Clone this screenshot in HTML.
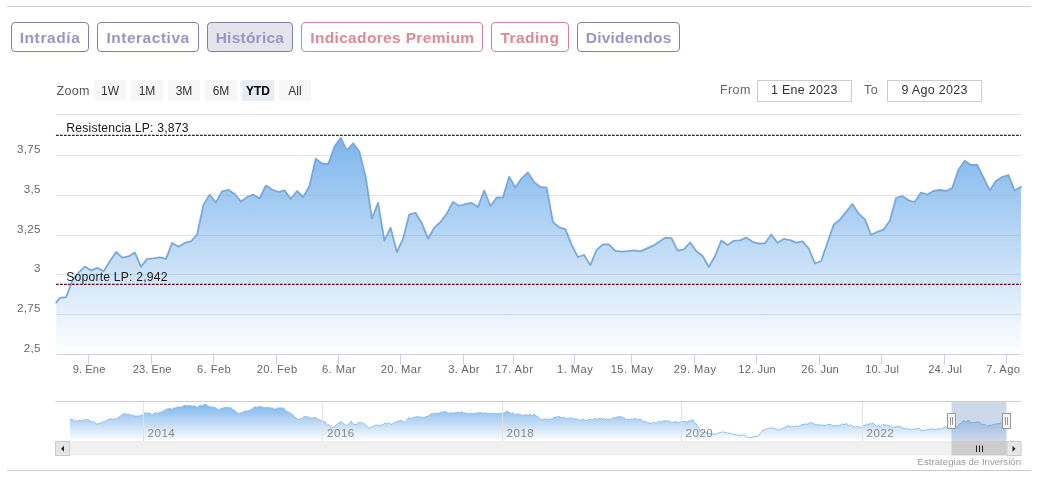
<!DOCTYPE html>
<html><head><meta charset="utf-8"><title>chart</title>
<style>
html,body{margin:0;padding:0;background:#fff;}
body{width:1039px;height:478px;position:relative;overflow:hidden;font-family:"Liberation Sans",sans-serif;}
.hr{position:absolute;left:7px;width:1024px;height:1px;background:#cfcfdb;}
.tab{position:absolute;top:22px;height:29.5px;box-sizing:border-box;border:1px solid #8280a6;border-radius:4px;
 font-weight:bold;font-size:15.5px;line-height:30px;text-align:center;color:#9a95c6;background:#fff;white-space:nowrap;}
.tab.ps{background:#e4e4ec;}
.tab.r{border-color:#d9828f;color:#dd8a98;}
.zl{position:absolute;left:56.5px;top:83.7px;font-size:12.5px;color:#555;line-height:15px;letter-spacing:.3px}
.zb{position:absolute;top:79.5px;width:32px;height:21px;background:#f7f7f7;font-size:12px;line-height:22.5px;text-align:center;color:#333;}
.zb.sel{background:#e6ebf5;color:#000;font-weight:bold;}
.il{position:absolute;top:83px;font-size:12.5px;color:#666;line-height:15px;letter-spacing:.4px}
.ib{position:absolute;top:80px;width:94.4px;height:22px;box-sizing:border-box;border:1px solid #ccc;font-size:12.5px;line-height:19px;text-align:center;color:#333;letter-spacing:.3px}
svg{position:absolute;left:0;top:0;will-change:transform;}
svg text{font-family:"Liberation Sans",sans-serif;}
#w{position:absolute;left:0;top:0;width:1039px;height:478px;will-change:transform;}
</style></head><body><div id="w">
<div class="hr" style="top:6px"></div>
<div class="hr" style="top:470px;background:#ccc"></div>
<div class="tab p" style="left:11.0px;width:77.5px;letter-spacing:0.60px;text-indent:0.60px">Intradía</div><div class="tab p" style="left:97.0px;width:101.6px;letter-spacing:0.52px;text-indent:0.52px">Interactiva</div><div class="tab ps" style="left:207.0px;width:85.6px;letter-spacing:0.24px;text-indent:0.24px">Histórica</div><div class="tab r" style="left:301.3px;width:181.7px;letter-spacing:0.34px;text-indent:0.34px">Indicadores Premium</div><div class="tab r" style="left:491.0px;width:77.5px;letter-spacing:0.42px;text-indent:0.42px">Trading</div><div class="tab p" style="left:577.4px;width:102.3px;letter-spacing:0.22px;text-indent:0.22px">Dividendos</div>
<div class="zl">Zoom</div>
<div class="zb" style="left:94px">1W</div><div class="zb" style="left:131px">1M</div><div class="zb" style="left:168px">3M</div><div class="zb" style="left:205px">6M</div><div class="zb sel" style="left:242px">YTD</div><div class="zb" style="left:279px">All</div>
<div class="il" style="left:720px">From</div>
<div class="ib" style="left:757.2px">1 Ene 2023</div>
<div class="il" style="left:864px">To</div>
<div class="ib" style="left:887.1px;width:95px">9 Ago 2023</div>
<svg width="1039" height="478" viewBox="0 0 1039 478">
<defs>
<linearGradient id="g" gradientUnits="userSpaceOnUse" x1="0" y1="137" x2="0" y2="354.5"><stop offset="0" stop-color="#7cb5ec"/><stop offset="1" stop-color="#7cb5ec" stop-opacity="0"/></linearGradient>
<linearGradient id="ng" gradientUnits="userSpaceOnUse" x1="0" y1="404" x2="0" y2="441"><stop offset="0" stop-color="#7cb5ec"/><stop offset="1" stop-color="#7cb5ec" stop-opacity="0"/></linearGradient>
</defs>
<g stroke="#e2e2e2" stroke-width="1" fill="none"><path d="M56 114.5H1021"/><path d="M56 155.5H1021"/><path d="M56 195.5H1021"/><path d="M56 235.5H1021"/><path d="M56 274.5H1021"/><path d="M56 314.5H1021"/></g>
<path d="M56.2 302.6 L59.9 297.8 L66.1 297.2 L72.4 280.4 L78.6 272.7 L84.9 266.6 L91.1 270.4 L97.3 267.9 L103.6 271.2 L109.8 261.2 L116.1 252.0 L122.3 257.7 L128.5 256.4 L134.8 252.5 L141.0 266.6 L147.3 258.9 L153.5 258.3 L159.7 257.3 L166.0 258.9 L172.2 242.9 L178.5 246.8 L184.7 242.9 L190.9 241.4 L197.2 234.5 L203.4 204.9 L209.7 194.7 L215.9 202.4 L222.1 191.4 L228.4 189.8 L234.6 193.9 L240.9 201.6 L247.1 197.2 L253.3 194.7 L259.6 198.5 L265.8 185.6 L272.1 189.5 L278.3 192.0 L284.5 190.4 L290.8 199.1 L297.0 191.0 L303.3 197.0 L309.5 186.0 L315.7 158.7 L322.0 163.5 L328.2 164.2 L334.5 146.6 L340.7 137.8 L346.9 150.4 L353.2 143.3 L359.4 151.9 L365.7 177.0 L371.9 218.5 L378.1 202.9 L384.4 240.6 L390.6 227.7 L396.9 252.2 L403.1 238.7 L409.3 214.3 L415.6 212.9 L421.8 223.3 L428.1 238.7 L434.3 227.7 L440.5 222.0 L446.8 213.7 L453.0 201.9 L459.3 205.9 L465.5 204.0 L471.7 202.9 L478.0 207.0 L484.2 190.5 L490.5 206.0 L496.7 197.5 L502.9 197.6 L509.2 176.7 L515.4 187.6 L521.7 178.3 L527.9 172.5 L534.1 182.1 L540.4 187.0 L546.6 187.6 L552.9 221.8 L559.1 227.3 L565.3 229.2 L571.6 244.6 L577.8 257.0 L584.1 255.0 L590.3 265.1 L596.5 250.2 L602.8 244.3 L609.0 244.3 L615.3 250.9 L621.5 251.6 L627.7 251.1 L634.0 250.3 L640.2 251.4 L646.5 248.7 L652.7 245.9 L658.9 242.0 L665.2 237.7 L671.4 238.1 L677.7 250.7 L683.9 249.3 L690.1 242.5 L696.4 251.2 L702.6 256.0 L708.9 267.0 L715.1 256.0 L721.3 240.5 L727.6 245.0 L733.8 240.7 L740.1 240.3 L746.3 237.6 L752.5 241.8 L758.8 243.7 L765.0 243.3 L771.3 234.5 L777.5 242.7 L783.7 238.9 L790.0 240.2 L796.2 242.7 L802.5 241.4 L808.7 248.5 L814.9 263.5 L821.2 261.0 L827.4 242.7 L833.7 224.8 L839.9 219.6 L846.1 211.9 L852.4 204.0 L858.6 213.7 L864.9 219.3 L871.1 235.0 L877.3 231.8 L883.6 229.6 L889.8 220.7 L896.1 198.0 L902.3 195.9 L908.5 200.3 L914.8 202.0 L921.0 192.6 L927.3 194.5 L933.5 191.0 L939.7 190.0 L946.0 191.0 L952.2 188.1 L958.5 169.8 L964.7 160.8 L970.9 165.0 L977.2 165.0 L983.4 177.5 L989.7 190.4 L995.9 181.0 L1002.1 177.0 L1008.4 175.0 L1014.6 190.6 L1021.0 186.8 L1021 354.5 L56.2 354.5 Z" fill="url(#g)"/>
<path d="M56.2 302.6 L59.9 297.8 L66.1 297.2 L72.4 280.4 L78.6 272.7 L84.9 266.6 L91.1 270.4 L97.3 267.9 L103.6 271.2 L109.8 261.2 L116.1 252.0 L122.3 257.7 L128.5 256.4 L134.8 252.5 L141.0 266.6 L147.3 258.9 L153.5 258.3 L159.7 257.3 L166.0 258.9 L172.2 242.9 L178.5 246.8 L184.7 242.9 L190.9 241.4 L197.2 234.5 L203.4 204.9 L209.7 194.7 L215.9 202.4 L222.1 191.4 L228.4 189.8 L234.6 193.9 L240.9 201.6 L247.1 197.2 L253.3 194.7 L259.6 198.5 L265.8 185.6 L272.1 189.5 L278.3 192.0 L284.5 190.4 L290.8 199.1 L297.0 191.0 L303.3 197.0 L309.5 186.0 L315.7 158.7 L322.0 163.5 L328.2 164.2 L334.5 146.6 L340.7 137.8 L346.9 150.4 L353.2 143.3 L359.4 151.9 L365.7 177.0 L371.9 218.5 L378.1 202.9 L384.4 240.6 L390.6 227.7 L396.9 252.2 L403.1 238.7 L409.3 214.3 L415.6 212.9 L421.8 223.3 L428.1 238.7 L434.3 227.7 L440.5 222.0 L446.8 213.7 L453.0 201.9 L459.3 205.9 L465.5 204.0 L471.7 202.9 L478.0 207.0 L484.2 190.5 L490.5 206.0 L496.7 197.5 L502.9 197.6 L509.2 176.7 L515.4 187.6 L521.7 178.3 L527.9 172.5 L534.1 182.1 L540.4 187.0 L546.6 187.6 L552.9 221.8 L559.1 227.3 L565.3 229.2 L571.6 244.6 L577.8 257.0 L584.1 255.0 L590.3 265.1 L596.5 250.2 L602.8 244.3 L609.0 244.3 L615.3 250.9 L621.5 251.6 L627.7 251.1 L634.0 250.3 L640.2 251.4 L646.5 248.7 L652.7 245.9 L658.9 242.0 L665.2 237.7 L671.4 238.1 L677.7 250.7 L683.9 249.3 L690.1 242.5 L696.4 251.2 L702.6 256.0 L708.9 267.0 L715.1 256.0 L721.3 240.5 L727.6 245.0 L733.8 240.7 L740.1 240.3 L746.3 237.6 L752.5 241.8 L758.8 243.7 L765.0 243.3 L771.3 234.5 L777.5 242.7 L783.7 238.9 L790.0 240.2 L796.2 242.7 L802.5 241.4 L808.7 248.5 L814.9 263.5 L821.2 261.0 L827.4 242.7 L833.7 224.8 L839.9 219.6 L846.1 211.9 L852.4 204.0 L858.6 213.7 L864.9 219.3 L871.1 235.0 L877.3 231.8 L883.6 229.6 L889.8 220.7 L896.1 198.0 L902.3 195.9 L908.5 200.3 L914.8 202.0 L921.0 192.6 L927.3 194.5 L933.5 191.0 L939.7 190.0 L946.0 191.0 L952.2 188.1 L958.5 169.8 L964.7 160.8 L970.9 165.0 L977.2 165.0 L983.4 177.5 L989.7 190.4 L995.9 181.0 L1002.1 177.0 L1008.4 175.0 L1014.6 190.6 L1021.0 186.8" fill="none" stroke="#7aa9d9" stroke-width="1.8" stroke-linejoin="round" stroke-linecap="round"/>
<path d="M56 135.3H1021" stroke="#16301c" stroke-width="1.2" stroke-dasharray="2.7 1.3" fill="none"/>
<path d="M56 284.4H1021" stroke="#5e0a28" stroke-width="1.2" stroke-dasharray="2.7 1.3" fill="none"/>
<g font-size="12.2" fill="#1a1a1a" letter-spacing=".18"><text x="66.3" y="131.9">Resistencia LP: 3,873</text><text x="66.3" y="280.7" letter-spacing=".18">Soporte LP: 2,942</text></g>
<path d="M56 354.5H1021" stroke="#c9d2e6" stroke-width="1" fill="none"/>
<g stroke="#c9d2e6" stroke-width="1" fill="none"><path d="M88.5 354.5V364.5"/><path d="M151.5 354.5V364.5"/><path d="M213.5 354.5V364.5"/><path d="M276.5 354.5V364.5"/><path d="M338.5 354.5V364.5"/><path d="M400.5 354.5V364.5"/><path d="M463.5 354.5V364.5"/><path d="M513.5 354.5V364.5"/><path d="M574.5 354.5V364.5"/><path d="M631.5 354.5V364.5"/><path d="M694.5 354.5V364.5"/><path d="M756.5 354.5V364.5"/><path d="M819.5 354.5V364.5"/><path d="M881.5 354.5V364.5"/><path d="M944.5 354.5V364.5"/><path d="M1006.5 354.5V364.5"/></g>
<g font-size="11.2" fill="#666" letter-spacing=".42"><text x="89.1" y="373.3" text-anchor="middle" letter-spacing=".05">9. Ene</text><text x="152.1" y="373.3" text-anchor="middle" letter-spacing=".05">23. Ene</text><text x="214.1" y="373.3" text-anchor="middle">6. Feb</text><text x="277.1" y="373.3" text-anchor="middle">20. Feb</text><text x="339.1" y="373.3" text-anchor="middle">6. Mar</text><text x="401.1" y="373.3" text-anchor="middle">20. Mar</text><text x="464.1" y="373.3" text-anchor="middle">3. Abr</text><text x="514.1" y="373.3" text-anchor="middle">17. Abr</text><text x="575.1" y="373.3" text-anchor="middle">1. May</text><text x="632.1" y="373.3" text-anchor="middle">15. May</text><text x="695.1" y="373.3" text-anchor="middle">29. May</text><text x="757.1" y="373.3" text-anchor="middle" letter-spacing=".12">12. Jun</text><text x="820.1" y="373.3" text-anchor="middle" letter-spacing=".12">26. Jun</text><text x="882.1" y="373.3" text-anchor="middle" letter-spacing=".12">10. Jul</text><text x="945.1" y="373.3" text-anchor="middle" letter-spacing=".12">24. Jul</text><text x="1020.5" y="373.3" text-anchor="end">7. Ago</text></g>
<g font-size="11.6" fill="#666" letter-spacing=".3"><text x="40.7" y="152.5" text-anchor="end">3,75</text><text x="40.7" y="192.5" text-anchor="end">3,5</text><text x="40.7" y="232.5" text-anchor="end">3,25</text><text x="40.7" y="271.5" text-anchor="end">3</text><text x="40.7" y="311.5" text-anchor="end">2,75</text><text x="40.7" y="351.5" text-anchor="end">2,5</text></g>
<!-- navigator -->
<rect x="55.5" y="441" width="965.5" height="14.5" fill="#f0f0f0"/>
<path d="M70.0 418.8 L71.2 419.1 L72.5 419.4 L73.8 420.9 L75.0 421.3 L76.3 420.4 L77.5 421.2 L78.8 420.8 L80.0 420.1 L81.3 420.8 L82.5 420.7 L83.8 419.6 L85.0 420.2 L86.3 419.4 L87.5 420.0 L88.8 419.7 L90.0 420.8 L91.2 422.0 L92.5 421.2 L93.8 421.9 L95.0 423.1 L96.2 424.1 L97.5 423.8 L98.8 423.6 L100.0 422.9 L101.3 423.6 L102.5 421.5 L103.8 422.0 L105.0 422.0 L106.3 420.4 L107.5 419.5 L108.8 419.5 L110.0 418.7 L111.3 418.9 L112.5 419.7 L113.8 418.5 L115.0 419.1 L116.3 418.8 L117.5 418.3 L118.8 417.1 L120.0 416.7 L121.3 415.2 L122.5 414.4 L123.8 414.0 L125.0 413.8 L126.2 414.4 L127.5 414.2 L128.8 414.3 L130.0 415.1 L131.2 415.1 L132.5 415.5 L133.8 415.3 L135.0 416.3 L136.3 416.3 L137.5 415.7 L138.8 416.3 L140.1 415.8 L141.3 415.1 L142.6 415.1 L143.8 414.2 L145.1 412.8 L146.3 412.5 L147.6 413.8 L148.8 412.7 L150.1 413.7 L151.3 414.3 L152.5 414.5 L153.8 413.2 L155.0 413.5 L156.3 412.4 L157.5 413.3 L158.8 413.2 L160.0 412.5 L161.2 412.0 L162.5 411.9 L163.8 410.3 L165.0 410.4 L166.2 409.6 L167.5 408.8 L168.8 408.8 L170.0 408.5 L171.2 409.0 L172.5 409.1 L173.8 408.1 L175.0 408.0 L176.3 407.9 L177.5 406.5 L178.8 407.3 L180.0 406.8 L181.3 407.1 L182.5 406.4 L183.8 405.5 L185.0 405.2 L186.3 405.5 L187.5 406.1 L188.8 405.1 L190.0 406.0 L191.3 405.6 L192.5 406.3 L193.8 405.8 L195.0 405.9 L196.2 407.3 L197.5 407.0 L198.8 405.9 L200.0 405.7 L201.2 405.6 L202.5 406.0 L203.8 404.2 L205.0 404.5 L206.2 404.8 L207.5 405.4 L208.8 406.4 L210.0 406.7 L211.2 407.2 L212.5 407.0 L213.8 407.0 L215.0 407.7 L216.2 408.0 L217.5 409.4 L218.8 409.9 L220.0 409.5 L221.2 408.5 L222.5 408.1 L223.8 407.8 L225.0 407.4 L226.2 407.4 L227.5 407.0 L228.8 407.8 L230.0 407.8 L231.3 407.9 L232.5 409.3 L233.8 410.0 L235.1 410.6 L236.3 411.8 L237.6 413.3 L238.8 413.3 L240.0 413.2 L241.3 412.5 L242.5 412.3 L243.8 412.0 L245.0 410.5 L246.3 411.6 L247.5 410.5 L248.8 410.5 L250.0 410.2 L251.3 409.5 L252.5 408.3 L253.8 407.8 L255.0 406.8 L256.3 407.0 L257.5 407.4 L258.8 406.5 L260.0 406.6 L261.3 407.0 L262.5 407.1 L263.8 407.6 L265.0 408.0 L266.2 407.3 L267.5 407.3 L268.8 407.7 L270.0 407.7 L271.2 408.3 L272.5 407.7 L273.8 409.4 L275.0 408.8 L276.2 408.9 L277.5 407.9 L278.8 408.0 L280.0 408.0 L281.2 407.9 L282.5 408.0 L283.8 408.2 L285.0 410.3 L286.2 411.4 L287.5 411.3 L288.8 412.1 L290.0 413.0 L291.3 413.3 L292.5 414.3 L293.8 415.7 L295.0 416.6 L296.3 418.6 L297.5 418.4 L298.8 420.0 L300.1 418.4 L301.3 419.3 L302.6 417.8 L303.8 417.0 L305.1 416.4 L306.3 417.2 L307.6 416.3 L308.8 417.3 L310.1 418.2 L311.3 418.0 L312.6 417.8 L313.8 417.5 L315.0 417.5 L316.3 418.2 L317.5 418.3 L318.8 419.9 L320.0 419.9 L321.3 420.8 L322.5 420.8 L323.8 421.3 L325.0 422.0 L326.3 423.9 L327.5 425.0 L328.8 425.0 L330.1 426.1 L331.3 426.6 L332.6 427.1 L333.8 427.0 L335.0 426.4 L336.3 424.5 L337.5 424.0 L338.8 422.7 L340.0 422.0 L341.3 421.9 L342.5 422.7 L343.8 423.9 L345.0 424.6 L346.3 425.8 L347.6 425.0 L348.8 424.4 L350.1 422.3 L351.3 421.3 L352.5 423.2 L353.8 424.3 L355.0 424.5 L356.2 424.8 L357.5 423.3 L358.8 422.5 L360.0 422.5 L361.4 422.6 L362.8 423.2 L364.1 423.8 L365.5 425.0 L366.6 426.2 L367.7 427.7 L368.8 428.0 L370.0 428.1 L371.3 427.0 L372.5 426.8 L373.8 426.5 L375.0 425.5 L376.2 424.6 L377.5 425.5 L378.8 425.7 L380.0 425.3 L381.2 425.1 L382.5 424.5 L383.8 424.1 L385.0 423.2 L386.2 423.9 L387.5 423.0 L388.8 422.9 L390.0 423.9 L391.2 424.4 L392.5 423.8 L393.8 422.9 L395.0 422.1 L396.2 422.4 L397.5 420.8 L398.8 421.4 L400.0 420.6 L401.2 420.7 L402.5 421.0 L403.8 422.5 L405.0 422.0 L406.5 420.7 L408.0 418.3 L409.2 417.5 L410.4 418.6 L411.6 418.7 L412.8 417.9 L413.9 417.2 L415.1 417.4 L416.3 416.5 L417.5 417.0 L418.8 416.1 L420.0 417.8 L421.2 417.3 L422.5 417.0 L423.8 417.8 L425.0 417.0 L426.2 416.3 L427.5 416.6 L428.8 416.0 L430.0 414.3 L431.2 413.9 L432.5 413.8 L433.8 413.3 L435.0 413.1 L436.3 413.7 L437.5 413.0 L438.8 413.3 L440.1 412.7 L441.3 411.6 L442.6 412.5 L443.8 411.3 L445.0 411.4 L446.3 411.9 L447.5 412.5 L448.8 413.4 L450.0 413.0 L451.2 412.8 L452.5 413.6 L453.8 412.8 L455.0 412.8 L456.2 412.7 L457.5 411.8 L458.8 412.5 L460.0 412.5 L461.2 412.1 L462.5 411.9 L463.8 413.5 L465.0 412.6 L466.2 413.3 L467.5 413.9 L468.8 413.7 L470.0 413.8 L471.2 413.4 L472.5 413.6 L473.8 413.5 L475.0 413.8 L476.2 412.4 L477.5 413.0 L478.8 413.1 L480.0 412.5 L481.2 412.6 L482.5 413.5 L483.8 413.0 L485.0 413.1 L486.2 413.5 L487.5 413.0 L488.8 413.8 L490.0 413.1 L491.2 413.5 L492.5 413.4 L493.8 413.5 L495.0 413.9 L496.2 413.6 L497.5 413.8 L498.8 413.5 L500.0 413.1 L501.2 413.7 L502.5 412.9 L503.8 412.9 L505.0 412.7 L506.2 411.2 L507.5 411.3 L508.8 411.9 L510.0 413.2 L511.2 413.5 L512.5 412.8 L513.8 413.3 L515.0 414.5 L516.2 414.5 L517.5 413.9 L518.8 414.2 L520.0 414.0 L521.2 415.1 L522.5 415.4 L523.8 415.7 L525.0 415.0 L526.2 414.3 L527.5 415.3 L528.8 415.1 L530.0 414.1 L531.2 415.4 L532.5 415.5 L533.8 414.1 L535.0 414.5 L536.3 416.3 L537.5 416.2 L538.8 417.4 L540.0 419.2 L541.3 419.3 L542.5 419.9 L543.8 418.7 L545.0 419.3 L546.3 419.4 L547.5 419.2 L548.8 418.9 L550.0 419.5 L551.3 418.7 L552.5 418.9 L553.8 417.1 L555.0 417.6 L556.3 417.0 L557.5 417.0 L558.8 416.4 L560.0 417.0 L561.3 417.7 L562.5 417.6 L563.8 416.9 L565.0 418.7 L566.3 418.4 L567.5 418.0 L568.8 419.0 L570.0 417.7 L571.2 418.1 L572.5 417.9 L573.8 419.4 L575.0 418.7 L576.2 418.6 L577.5 419.5 L578.8 419.4 L580.0 420.3 L581.2 420.2 L582.5 419.3 L583.8 419.1 L585.0 420.6 L586.2 420.0 L587.5 420.3 L588.8 419.2 L590.0 420.0 L591.3 419.0 L592.5 419.9 L593.8 419.1 L595.0 418.3 L596.3 419.6 L597.5 418.8 L598.8 418.3 L600.0 419.0 L601.3 417.9 L602.5 419.5 L603.8 418.2 L605.0 419.8 L606.3 419.2 L607.5 419.5 L608.8 419.0 L610.0 419.1 L611.2 419.5 L612.5 418.1 L613.8 417.6 L615.0 418.0 L616.2 417.3 L617.5 416.8 L618.8 416.6 L620.0 417.0 L621.2 416.6 L622.5 417.3 L623.8 417.9 L625.0 418.3 L626.2 419.6 L627.5 419.5 L628.8 419.1 L630.0 419.5 L631.2 418.9 L632.5 419.2 L633.8 418.6 L635.0 419.1 L636.2 418.6 L637.5 419.9 L638.8 419.6 L640.0 419.5 L641.2 419.4 L642.5 420.4 L643.8 421.7 L645.0 420.7 L646.2 422.4 L647.5 422.2 L648.8 422.8 L650.0 423.3 L651.2 423.7 L652.5 422.7 L653.8 422.7 L655.0 422.8 L656.2 423.1 L657.5 422.0 L658.8 421.5 L660.0 422.1 L661.3 421.7 L662.5 421.3 L663.8 420.8 L665.0 420.9 L666.3 421.0 L667.5 420.7 L668.8 421.1 L670.0 421.2 L671.3 422.7 L672.5 422.5 L673.8 422.0 L675.0 421.7 L676.3 421.5 L677.5 422.7 L678.8 422.7 L680.0 422.2 L681.3 421.8 L682.5 421.4 L683.8 421.4 L685.0 421.5 L686.3 421.9 L687.5 422.0 L688.9 420.9 L690.2 420.9 L691.6 420.1 L693.0 420.0 L694.1 422.1 L695.2 423.4 L696.3 423.8 L697.5 426.1 L698.8 427.7 L700.0 431.2 L701.3 432.5 L702.5 432.3 L703.8 432.4 L705.0 431.9 L706.3 432.7 L707.5 433.0 L708.8 433.3 L710.0 433.7 L711.2 433.5 L712.5 434.3 L713.8 433.8 L715.0 435.0 L716.3 434.1 L717.5 433.3 L718.8 433.3 L720.0 432.2 L721.3 432.5 L722.5 431.7 L723.8 432.3 L725.0 432.2 L726.3 432.9 L727.5 432.9 L728.8 433.4 L730.0 433.0 L731.3 433.7 L732.5 434.2 L733.8 434.9 L735.0 434.4 L736.3 435.0 L737.5 434.8 L738.8 436.0 L740.0 434.6 L741.3 435.7 L742.5 435.6 L743.8 434.6 L745.0 435.5 L746.2 436.6 L747.5 437.2 L748.8 437.2 L750.0 437.5 L751.2 437.7 L752.5 437.7 L753.8 436.3 L755.0 436.7 L756.2 436.5 L757.5 436.3 L758.8 435.5 L760.0 433.9 L761.2 432.5 L762.5 430.5 L763.8 430.1 L765.0 430.1 L766.2 429.2 L767.5 428.3 L768.8 428.7 L770.0 428.0 L771.3 427.8 L772.5 428.0 L773.8 428.8 L775.0 428.8 L776.3 428.7 L777.5 430.3 L778.8 430.0 L780.0 429.5 L781.3 429.0 L782.5 428.4 L783.8 427.9 L785.0 427.0 L786.3 426.7 L787.7 425.6 L789.0 426.3 L790.2 426.8 L791.5 426.7 L792.8 426.3 L794.0 426.4 L795.2 426.6 L796.5 425.5 L797.8 426.7 L799.0 426.3 L800.3 425.4 L801.5 424.7 L802.8 424.6 L804.0 425.0 L805.3 423.7 L806.5 424.2 L807.8 424.2 L809.0 422.9 L810.3 422.5 L811.5 422.7 L812.8 423.2 L814.0 424.0 L815.3 424.5 L816.5 424.6 L817.8 425.0 L819.0 424.4 L820.3 425.5 L821.5 424.8 L822.8 424.9 L824.0 425.7 L825.3 424.9 L826.5 425.3 L827.8 424.2 L829.0 425.0 L830.3 424.3 L831.5 424.8 L832.8 425.7 L834.0 425.8 L835.3 425.9 L836.5 425.3 L837.8 425.8 L839.0 425.5 L840.3 425.1 L841.5 424.7 L842.8 423.8 L844.0 424.8 L845.3 423.8 L846.5 423.6 L847.8 425.4 L849.0 425.7 L850.3 424.4 L851.5 425.5 L852.8 426.5 L854.0 426.3 L855.3 427.4 L856.5 426.7 L857.8 426.6 L859.0 426.7 L860.3 427.5 L861.5 427.7 L862.8 425.7 L864.0 425.8 L865.3 425.0 L866.5 424.0 L867.8 424.4 L869.0 424.8 L870.3 423.0 L871.5 423.9 L872.8 423.0 L874.0 423.8 L875.3 425.3 L876.5 425.8 L877.8 426.3 L879.0 425.6 L880.3 426.6 L881.5 425.7 L882.8 424.7 L884.0 424.5 L885.3 425.2 L886.5 425.0 L887.8 425.4 L889.0 425.6 L890.3 425.9 L891.5 426.7 L892.8 427.5 L894.0 426.9 L895.3 427.6 L896.5 425.9 L897.8 427.0 L899.0 426.3 L900.2 427.3 L901.5 426.4 L902.8 428.3 L904.0 428.3 L905.2 429.0 L906.5 428.3 L907.8 428.9 L909.0 429.5 L910.2 429.2 L911.5 430.2 L912.8 429.3 L914.0 428.8 L915.2 428.8 L916.5 428.8 L917.8 428.7 L919.0 428.7 L920.3 429.1 L921.5 430.8 L922.8 430.5 L924.0 429.9 L925.3 430.9 L926.5 429.4 L927.8 429.3 L929.0 429.5 L930.2 429.4 L931.5 428.8 L932.8 429.0 L934.0 430.0 L935.2 429.8 L936.5 429.5 L937.8 429.1 L939.0 428.8 L940.2 429.2 L941.5 429.0 L942.8 428.0 L944.0 428.0 L945.2 426.5 L946.5 427.0 L947.8 427.5 L949.0 427.2 L950.2 427.8 L951.5 427.5 L952.8 427.5 L954.0 426.6 L955.3 426.0 L956.5 427.3 L957.8 426.3 L959.0 424.4 L960.3 423.7 L961.5 422.3 L962.8 421.3 L964.0 420.8 L965.3 421.4 L966.5 421.7 L967.8 420.2 L969.0 420.5 L970.2 422.0 L971.5 423.0 L972.8 422.4 L974.0 422.7 L975.3 422.2 L976.5 421.6 L977.8 422.0 L979.0 422.0 L980.3 422.7 L981.5 424.5 L982.8 424.4 L984.0 425.0 L985.2 424.6 L986.5 425.9 L987.8 426.1 L989.0 425.2 L990.2 424.8 L991.5 425.5 L992.8 424.7 L994.0 424.2 L995.2 424.4 L996.5 423.6 L997.8 423.6 L999.0 423.8 L1000.2 422.7 L1001.5 422.7 L1002.8 422.6 L1004.0 421.3 L1005.2 422.1 L1006.5 422.0 L1006.5 441 L70 441 Z" fill="url(#ng)"/>
<path d="M70.0 418.8 L71.2 419.1 L72.5 419.4 L73.8 420.9 L75.0 421.3 L76.3 420.4 L77.5 421.2 L78.8 420.8 L80.0 420.1 L81.3 420.8 L82.5 420.7 L83.8 419.6 L85.0 420.2 L86.3 419.4 L87.5 420.0 L88.8 419.7 L90.0 420.8 L91.2 422.0 L92.5 421.2 L93.8 421.9 L95.0 423.1 L96.2 424.1 L97.5 423.8 L98.8 423.6 L100.0 422.9 L101.3 423.6 L102.5 421.5 L103.8 422.0 L105.0 422.0 L106.3 420.4 L107.5 419.5 L108.8 419.5 L110.0 418.7 L111.3 418.9 L112.5 419.7 L113.8 418.5 L115.0 419.1 L116.3 418.8 L117.5 418.3 L118.8 417.1 L120.0 416.7 L121.3 415.2 L122.5 414.4 L123.8 414.0 L125.0 413.8 L126.2 414.4 L127.5 414.2 L128.8 414.3 L130.0 415.1 L131.2 415.1 L132.5 415.5 L133.8 415.3 L135.0 416.3 L136.3 416.3 L137.5 415.7 L138.8 416.3 L140.1 415.8 L141.3 415.1 L142.6 415.1 L143.8 414.2 L145.1 412.8 L146.3 412.5 L147.6 413.8 L148.8 412.7 L150.1 413.7 L151.3 414.3 L152.5 414.5 L153.8 413.2 L155.0 413.5 L156.3 412.4 L157.5 413.3 L158.8 413.2 L160.0 412.5 L161.2 412.0 L162.5 411.9 L163.8 410.3 L165.0 410.4 L166.2 409.6 L167.5 408.8 L168.8 408.8 L170.0 408.5 L171.2 409.0 L172.5 409.1 L173.8 408.1 L175.0 408.0 L176.3 407.9 L177.5 406.5 L178.8 407.3 L180.0 406.8 L181.3 407.1 L182.5 406.4 L183.8 405.5 L185.0 405.2 L186.3 405.5 L187.5 406.1 L188.8 405.1 L190.0 406.0 L191.3 405.6 L192.5 406.3 L193.8 405.8 L195.0 405.9 L196.2 407.3 L197.5 407.0 L198.8 405.9 L200.0 405.7 L201.2 405.6 L202.5 406.0 L203.8 404.2 L205.0 404.5 L206.2 404.8 L207.5 405.4 L208.8 406.4 L210.0 406.7 L211.2 407.2 L212.5 407.0 L213.8 407.0 L215.0 407.7 L216.2 408.0 L217.5 409.4 L218.8 409.9 L220.0 409.5 L221.2 408.5 L222.5 408.1 L223.8 407.8 L225.0 407.4 L226.2 407.4 L227.5 407.0 L228.8 407.8 L230.0 407.8 L231.3 407.9 L232.5 409.3 L233.8 410.0 L235.1 410.6 L236.3 411.8 L237.6 413.3 L238.8 413.3 L240.0 413.2 L241.3 412.5 L242.5 412.3 L243.8 412.0 L245.0 410.5 L246.3 411.6 L247.5 410.5 L248.8 410.5 L250.0 410.2 L251.3 409.5 L252.5 408.3 L253.8 407.8 L255.0 406.8 L256.3 407.0 L257.5 407.4 L258.8 406.5 L260.0 406.6 L261.3 407.0 L262.5 407.1 L263.8 407.6 L265.0 408.0 L266.2 407.3 L267.5 407.3 L268.8 407.7 L270.0 407.7 L271.2 408.3 L272.5 407.7 L273.8 409.4 L275.0 408.8 L276.2 408.9 L277.5 407.9 L278.8 408.0 L280.0 408.0 L281.2 407.9 L282.5 408.0 L283.8 408.2 L285.0 410.3 L286.2 411.4 L287.5 411.3 L288.8 412.1 L290.0 413.0 L291.3 413.3 L292.5 414.3 L293.8 415.7 L295.0 416.6 L296.3 418.6 L297.5 418.4 L298.8 420.0 L300.1 418.4 L301.3 419.3 L302.6 417.8 L303.8 417.0 L305.1 416.4 L306.3 417.2 L307.6 416.3 L308.8 417.3 L310.1 418.2 L311.3 418.0 L312.6 417.8 L313.8 417.5 L315.0 417.5 L316.3 418.2 L317.5 418.3 L318.8 419.9 L320.0 419.9 L321.3 420.8 L322.5 420.8 L323.8 421.3 L325.0 422.0 L326.3 423.9 L327.5 425.0 L328.8 425.0 L330.1 426.1 L331.3 426.6 L332.6 427.1 L333.8 427.0 L335.0 426.4 L336.3 424.5 L337.5 424.0 L338.8 422.7 L340.0 422.0 L341.3 421.9 L342.5 422.7 L343.8 423.9 L345.0 424.6 L346.3 425.8 L347.6 425.0 L348.8 424.4 L350.1 422.3 L351.3 421.3 L352.5 423.2 L353.8 424.3 L355.0 424.5 L356.2 424.8 L357.5 423.3 L358.8 422.5 L360.0 422.5 L361.4 422.6 L362.8 423.2 L364.1 423.8 L365.5 425.0 L366.6 426.2 L367.7 427.7 L368.8 428.0 L370.0 428.1 L371.3 427.0 L372.5 426.8 L373.8 426.5 L375.0 425.5 L376.2 424.6 L377.5 425.5 L378.8 425.7 L380.0 425.3 L381.2 425.1 L382.5 424.5 L383.8 424.1 L385.0 423.2 L386.2 423.9 L387.5 423.0 L388.8 422.9 L390.0 423.9 L391.2 424.4 L392.5 423.8 L393.8 422.9 L395.0 422.1 L396.2 422.4 L397.5 420.8 L398.8 421.4 L400.0 420.6 L401.2 420.7 L402.5 421.0 L403.8 422.5 L405.0 422.0 L406.5 420.7 L408.0 418.3 L409.2 417.5 L410.4 418.6 L411.6 418.7 L412.8 417.9 L413.9 417.2 L415.1 417.4 L416.3 416.5 L417.5 417.0 L418.8 416.1 L420.0 417.8 L421.2 417.3 L422.5 417.0 L423.8 417.8 L425.0 417.0 L426.2 416.3 L427.5 416.6 L428.8 416.0 L430.0 414.3 L431.2 413.9 L432.5 413.8 L433.8 413.3 L435.0 413.1 L436.3 413.7 L437.5 413.0 L438.8 413.3 L440.1 412.7 L441.3 411.6 L442.6 412.5 L443.8 411.3 L445.0 411.4 L446.3 411.9 L447.5 412.5 L448.8 413.4 L450.0 413.0 L451.2 412.8 L452.5 413.6 L453.8 412.8 L455.0 412.8 L456.2 412.7 L457.5 411.8 L458.8 412.5 L460.0 412.5 L461.2 412.1 L462.5 411.9 L463.8 413.5 L465.0 412.6 L466.2 413.3 L467.5 413.9 L468.8 413.7 L470.0 413.8 L471.2 413.4 L472.5 413.6 L473.8 413.5 L475.0 413.8 L476.2 412.4 L477.5 413.0 L478.8 413.1 L480.0 412.5 L481.2 412.6 L482.5 413.5 L483.8 413.0 L485.0 413.1 L486.2 413.5 L487.5 413.0 L488.8 413.8 L490.0 413.1 L491.2 413.5 L492.5 413.4 L493.8 413.5 L495.0 413.9 L496.2 413.6 L497.5 413.8 L498.8 413.5 L500.0 413.1 L501.2 413.7 L502.5 412.9 L503.8 412.9 L505.0 412.7 L506.2 411.2 L507.5 411.3 L508.8 411.9 L510.0 413.2 L511.2 413.5 L512.5 412.8 L513.8 413.3 L515.0 414.5 L516.2 414.5 L517.5 413.9 L518.8 414.2 L520.0 414.0 L521.2 415.1 L522.5 415.4 L523.8 415.7 L525.0 415.0 L526.2 414.3 L527.5 415.3 L528.8 415.1 L530.0 414.1 L531.2 415.4 L532.5 415.5 L533.8 414.1 L535.0 414.5 L536.3 416.3 L537.5 416.2 L538.8 417.4 L540.0 419.2 L541.3 419.3 L542.5 419.9 L543.8 418.7 L545.0 419.3 L546.3 419.4 L547.5 419.2 L548.8 418.9 L550.0 419.5 L551.3 418.7 L552.5 418.9 L553.8 417.1 L555.0 417.6 L556.3 417.0 L557.5 417.0 L558.8 416.4 L560.0 417.0 L561.3 417.7 L562.5 417.6 L563.8 416.9 L565.0 418.7 L566.3 418.4 L567.5 418.0 L568.8 419.0 L570.0 417.7 L571.2 418.1 L572.5 417.9 L573.8 419.4 L575.0 418.7 L576.2 418.6 L577.5 419.5 L578.8 419.4 L580.0 420.3 L581.2 420.2 L582.5 419.3 L583.8 419.1 L585.0 420.6 L586.2 420.0 L587.5 420.3 L588.8 419.2 L590.0 420.0 L591.3 419.0 L592.5 419.9 L593.8 419.1 L595.0 418.3 L596.3 419.6 L597.5 418.8 L598.8 418.3 L600.0 419.0 L601.3 417.9 L602.5 419.5 L603.8 418.2 L605.0 419.8 L606.3 419.2 L607.5 419.5 L608.8 419.0 L610.0 419.1 L611.2 419.5 L612.5 418.1 L613.8 417.6 L615.0 418.0 L616.2 417.3 L617.5 416.8 L618.8 416.6 L620.0 417.0 L621.2 416.6 L622.5 417.3 L623.8 417.9 L625.0 418.3 L626.2 419.6 L627.5 419.5 L628.8 419.1 L630.0 419.5 L631.2 418.9 L632.5 419.2 L633.8 418.6 L635.0 419.1 L636.2 418.6 L637.5 419.9 L638.8 419.6 L640.0 419.5 L641.2 419.4 L642.5 420.4 L643.8 421.7 L645.0 420.7 L646.2 422.4 L647.5 422.2 L648.8 422.8 L650.0 423.3 L651.2 423.7 L652.5 422.7 L653.8 422.7 L655.0 422.8 L656.2 423.1 L657.5 422.0 L658.8 421.5 L660.0 422.1 L661.3 421.7 L662.5 421.3 L663.8 420.8 L665.0 420.9 L666.3 421.0 L667.5 420.7 L668.8 421.1 L670.0 421.2 L671.3 422.7 L672.5 422.5 L673.8 422.0 L675.0 421.7 L676.3 421.5 L677.5 422.7 L678.8 422.7 L680.0 422.2 L681.3 421.8 L682.5 421.4 L683.8 421.4 L685.0 421.5 L686.3 421.9 L687.5 422.0 L688.9 420.9 L690.2 420.9 L691.6 420.1 L693.0 420.0 L694.1 422.1 L695.2 423.4 L696.3 423.8 L697.5 426.1 L698.8 427.7 L700.0 431.2 L701.3 432.5 L702.5 432.3 L703.8 432.4 L705.0 431.9 L706.3 432.7 L707.5 433.0 L708.8 433.3 L710.0 433.7 L711.2 433.5 L712.5 434.3 L713.8 433.8 L715.0 435.0 L716.3 434.1 L717.5 433.3 L718.8 433.3 L720.0 432.2 L721.3 432.5 L722.5 431.7 L723.8 432.3 L725.0 432.2 L726.3 432.9 L727.5 432.9 L728.8 433.4 L730.0 433.0 L731.3 433.7 L732.5 434.2 L733.8 434.9 L735.0 434.4 L736.3 435.0 L737.5 434.8 L738.8 436.0 L740.0 434.6 L741.3 435.7 L742.5 435.6 L743.8 434.6 L745.0 435.5 L746.2 436.6 L747.5 437.2 L748.8 437.2 L750.0 437.5 L751.2 437.7 L752.5 437.7 L753.8 436.3 L755.0 436.7 L756.2 436.5 L757.5 436.3 L758.8 435.5 L760.0 433.9 L761.2 432.5 L762.5 430.5 L763.8 430.1 L765.0 430.1 L766.2 429.2 L767.5 428.3 L768.8 428.7 L770.0 428.0 L771.3 427.8 L772.5 428.0 L773.8 428.8 L775.0 428.8 L776.3 428.7 L777.5 430.3 L778.8 430.0 L780.0 429.5 L781.3 429.0 L782.5 428.4 L783.8 427.9 L785.0 427.0 L786.3 426.7 L787.7 425.6 L789.0 426.3 L790.2 426.8 L791.5 426.7 L792.8 426.3 L794.0 426.4 L795.2 426.6 L796.5 425.5 L797.8 426.7 L799.0 426.3 L800.3 425.4 L801.5 424.7 L802.8 424.6 L804.0 425.0 L805.3 423.7 L806.5 424.2 L807.8 424.2 L809.0 422.9 L810.3 422.5 L811.5 422.7 L812.8 423.2 L814.0 424.0 L815.3 424.5 L816.5 424.6 L817.8 425.0 L819.0 424.4 L820.3 425.5 L821.5 424.8 L822.8 424.9 L824.0 425.7 L825.3 424.9 L826.5 425.3 L827.8 424.2 L829.0 425.0 L830.3 424.3 L831.5 424.8 L832.8 425.7 L834.0 425.8 L835.3 425.9 L836.5 425.3 L837.8 425.8 L839.0 425.5 L840.3 425.1 L841.5 424.7 L842.8 423.8 L844.0 424.8 L845.3 423.8 L846.5 423.6 L847.8 425.4 L849.0 425.7 L850.3 424.4 L851.5 425.5 L852.8 426.5 L854.0 426.3 L855.3 427.4 L856.5 426.7 L857.8 426.6 L859.0 426.7 L860.3 427.5 L861.5 427.7 L862.8 425.7 L864.0 425.8 L865.3 425.0 L866.5 424.0 L867.8 424.4 L869.0 424.8 L870.3 423.0 L871.5 423.9 L872.8 423.0 L874.0 423.8 L875.3 425.3 L876.5 425.8 L877.8 426.3 L879.0 425.6 L880.3 426.6 L881.5 425.7 L882.8 424.7 L884.0 424.5 L885.3 425.2 L886.5 425.0 L887.8 425.4 L889.0 425.6 L890.3 425.9 L891.5 426.7 L892.8 427.5 L894.0 426.9 L895.3 427.6 L896.5 425.9 L897.8 427.0 L899.0 426.3 L900.2 427.3 L901.5 426.4 L902.8 428.3 L904.0 428.3 L905.2 429.0 L906.5 428.3 L907.8 428.9 L909.0 429.5 L910.2 429.2 L911.5 430.2 L912.8 429.3 L914.0 428.8 L915.2 428.8 L916.5 428.8 L917.8 428.7 L919.0 428.7 L920.3 429.1 L921.5 430.8 L922.8 430.5 L924.0 429.9 L925.3 430.9 L926.5 429.4 L927.8 429.3 L929.0 429.5 L930.2 429.4 L931.5 428.8 L932.8 429.0 L934.0 430.0 L935.2 429.8 L936.5 429.5 L937.8 429.1 L939.0 428.8 L940.2 429.2 L941.5 429.0 L942.8 428.0 L944.0 428.0 L945.2 426.5 L946.5 427.0 L947.8 427.5 L949.0 427.2 L950.2 427.8 L951.5 427.5 L952.8 427.5 L954.0 426.6 L955.3 426.0 L956.5 427.3 L957.8 426.3 L959.0 424.4 L960.3 423.7 L961.5 422.3 L962.8 421.3 L964.0 420.8 L965.3 421.4 L966.5 421.7 L967.8 420.2 L969.0 420.5 L970.2 422.0 L971.5 423.0 L972.8 422.4 L974.0 422.7 L975.3 422.2 L976.5 421.6 L977.8 422.0 L979.0 422.0 L980.3 422.7 L981.5 424.5 L982.8 424.4 L984.0 425.0 L985.2 424.6 L986.5 425.9 L987.8 426.1 L989.0 425.2 L990.2 424.8 L991.5 425.5 L992.8 424.7 L994.0 424.2 L995.2 424.4 L996.5 423.6 L997.8 423.6 L999.0 423.8 L1000.2 422.7 L1001.5 422.7 L1002.8 422.6 L1004.0 421.3 L1005.2 422.1 L1006.5 422.0" fill="none" stroke="#8fbce8" stroke-width="1"/>
<g stroke="#e2e2e2" stroke-width="1" fill="none"><path d="M143.5 401.5V441M322.5 401.5V441M502.5 401.5V441M681.5 401.5V441M862.5 401.5V441"/></g>
<g font-size="11.6" fill="#888" letter-spacing=".5"><text x="147.5" y="437.3">2014</text><text x="327" y="437.3">2016</text><text x="506.5" y="437.3">2018</text><text x="685.5" y="437.3">2020</text><text x="866.5" y="437.3">2022</text></g>
<rect x="951.5" y="401.5" width="55" height="39.5" fill="#6685c2" fill-opacity=".32"/>
<path d="M55.5 401.5H1021" stroke="#ccc" stroke-width="1" fill="none"/>
<rect x="951.5" y="441" width="55" height="14.5" fill="#ccc"/>
<g stroke="#ccc" stroke-width="1" fill="#e6e6e6"><rect x="55.5" y="441.5" width="14" height="14"/><rect x="1007" y="441.5" width="14" height="14"/></g>
<path d="M64 445.7V451.7L61 448.7Z" fill="#222"/><path d="M1012.5 445.7V451.7L1015.5 448.7Z" fill="#222"/>
<path d="M976.5 445.5V452M979.5 445.5V452M982.5 445.5V452" stroke="#222" stroke-width="1" fill="none"/>
<g stroke="#999" stroke-width="1" fill="#f5f5f5"><rect x="947.5" y="413.5" width="8" height="15"/><rect x="1002.5" y="413.5" width="8" height="15"/></g>
<path d="M950.5 417V425M952.5 417V425M1005.5 417V425M1007.5 417V425" stroke="#999" stroke-width="1" fill="none"/>
<text x="1021" y="465.2" text-anchor="end" font-size="9.6" fill="#999" letter-spacing=".02">Estrategias de Inversión</text>
</svg>
</div></body></html>
